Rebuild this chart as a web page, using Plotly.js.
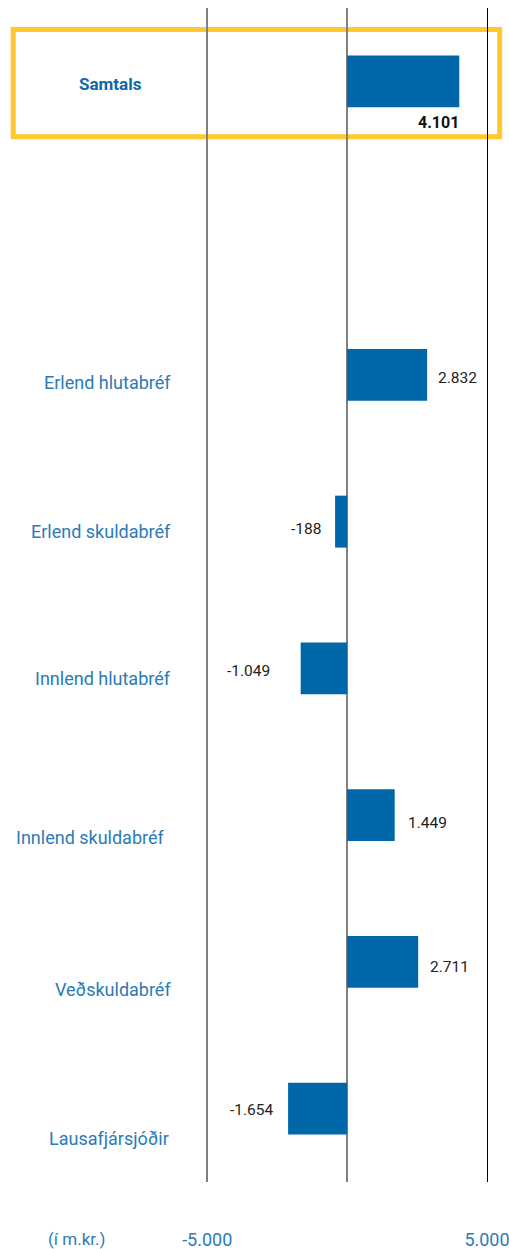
<!DOCTYPE html>
<html>
<head>
<meta charset="utf-8">
<script src="https://cdn.plot.ly/plotly-3.0.1.min.js"></script>
<style>html,body{margin:0;padding:0;background:#fff;}#chart{width:509px;height:1249px;}</style>
</head>
<body>
<div id="chart"></div>
<script>
// ---- data ----
const axisOrder = ['Samtals', ' ', 'Erlend hlutabréf', 'Erlend skuldabréf', 'Innlend hlutabréf', 'Innlend skuldabréf', 'Veðskuldabréf', 'Lausafjársjóðir'];
const categories = ['Samtals', 'Erlend hlutabréf', 'Erlend skuldabréf', 'Innlend hlutabréf', 'Innlend skuldabréf', 'Veðskuldabréf', 'Lausafjársjóðir'];
const barValues = [4010, 2860, -430, -1660, 1700, 2540, -2110];   // bar lengths as drawn
const valueLabels = ['4.101', '2.832', '-188', '-1.049', '1.449', '2.711', '-1.654'];
const tickValues = [-5000, 0, 5000];
const tickLabels = ['-5.000', '', '5.000'];
const unitLabel = '(í m.kr.)';

// ---- style / placement (not data) ----
const FONT = 'Roboto, "Open Sans", sans-serif';
const BAR = '#0067A8';
const LABEL_BLUE = '#2B7BB8';
const catLabelShift = [-3, -8, -10, -10, -22, -28, -30];   // vertical nudge (px) of category labels
const catLabelX = [-0.335, -0.115, -0.112, -0.115, -0.140, -0.115, -0.121];
const valGap = [0, 9, 12, 29, 11, 10, 12];
const valShift = [-41, -3, -7, -3, -8, -5, -1];

const annotations = [];
categories.forEach((c, i) => {
  const isTotal = i === 0;
  annotations.push({
    xref: 'paper', yref: 'y', x: catLabelX[i], y: c,
    xanchor: isTotal ? 'center' : 'right', yanchor: 'middle',
    yshift: catLabelShift[i], showarrow: false, text: isTotal ? '<b>' + c + '</b>' : c,
    font: {family: FONT, size: isTotal ? 17 : 18, color: isTotal ? '#0B68AC' : LABEL_BLUE}
  });
  const v = barValues[i];
  if (isTotal) {
    annotations.push({
      xref: 'x', yref: 'y', x: v, y: c, xanchor: 'right', yanchor: 'middle',
      xshift: 2, yshift: valShift[i], showarrow: false, text: '<b>' + valueLabels[i] + '</b>',
      font: {family: FONT, size: 16, color: '#111'}
    });
  } else {
    annotations.push({
      xref: 'x', yref: 'y', x: v, y: c, xanchor: v >= 0 ? 'left' : 'right', yanchor: 'middle',
      xshift: v >= 0 ? valGap[i] : -valGap[i], yshift: valShift[i], showarrow: false,
      text: valueLabels[i], font: {family: FONT, size: 15.5, color: '#222'}
    });
  }
});
annotations.push({
  xref: 'paper', yref: 'paper', x: -0.455, y: -0.0486, xanchor: 'center', yanchor: 'middle',
  showarrow: false, text: unitLabel, font: {family: FONT, size: 17, color: LABEL_BLUE}
});

const trace = {
  type: 'bar', orientation: 'h', y: categories, x: barValues,
  width: 0.354, marker: {color: BAR, line: {width: 0}}, hoverinfo: 'skip'
};

const layout = {
  width: 509, height: 1249,
  margin: {l: 205, r: 22, t: 8, b: 67},
  paper_bgcolor: '#fff', plot_bgcolor: 'rgba(0,0,0,0)',
  showlegend: false,
  font: {family: FONT},
  xaxis: {
    range: [-5080, 5000], tickvals: tickValues, ticktext: tickLabels,
    showgrid: true, gridcolor: '#808080', gridwidth: 2,
    zeroline: false, showline: false,
    ticks: 'outside', ticklen: 41, tickcolor: 'rgba(0,0,0,0)',
    ticklabeloverflow: 'allow',
    tickfont: {family: FONT, size: 18, color: LABEL_BLUE}
  },
  yaxis: {
    type: 'category', categoryorder: 'array', categoryarray: axisOrder,
    range: [7.5, -0.5], showticklabels: false, showgrid: false, zeroline: false,
    side: 'right', showline: true, linecolor: '#000', linewidth: 1, ticks: ''
  },
  shapes: [{
    type: 'rect', xref: 'paper', yref: 'paper', layer: 'below',
    x0: -0.68, x1: 1.045, y0: 0.8903, y1: 0.9817,
    line: {color: '#FFC82E', width: 5}, fillcolor: 'rgba(0,0,0,0)'
  }],
  annotations: annotations
};

Plotly.newPlot('chart', [trace], layout, {staticPlot: true, displayModeBar: false});
</script>
</body>
</html>
